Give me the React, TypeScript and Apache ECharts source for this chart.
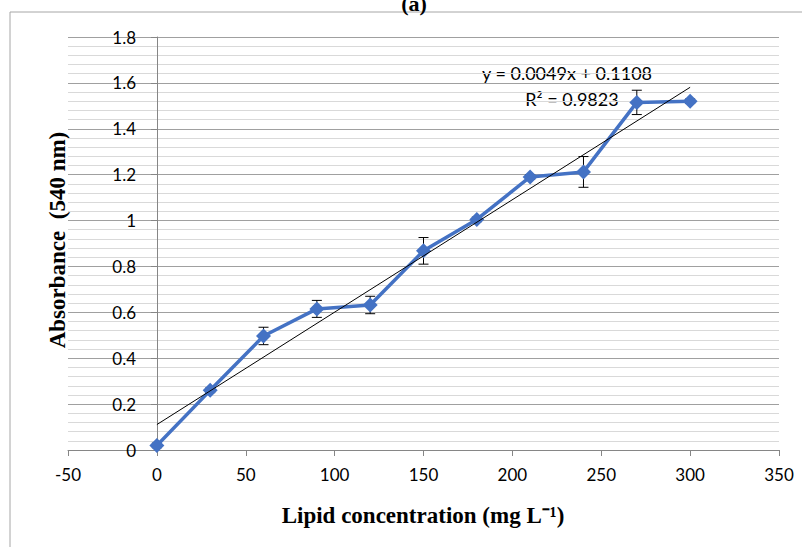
import React, { useEffect, useRef } from "react";
import * as echarts from "echarts";

const xValues = [0, 30, 60, 90, 120, 150, 180, 210, 240, 270, 300];
const absorbance = [0.02, 0.26, 0.497, 0.615, 0.632, 0.868, 1.005, 1.19, 1.212, 1.515, 1.52];
const errors = [0.01, 0.01, 0.038, 0.037, 0.038, 0.058, 0.01, 0.01, 0.067, 0.053, 0.01];
const trendline = [
  [0, 0.1108],
  [300, 1.5808],
];
const equationText = "y = 0.0049x + 0.1108";
const r2Text = "R² = 0.9823";

export default function App() {
  const ref = useRef<HTMLDivElement>(null);
  useEffect(() => {
    if (!ref.current) return;
    const chart = echarts.init(ref.current, undefined, { renderer: "svg" });
    const tickFont = "Lato, 'Open Sans', sans-serif";
    const serif = "'Liberation Serif', 'Times New Roman', serif";
    chart.setOption({
      animation: false,
      backgroundColor: "#fff",
      grid: { left: 68, right: 23, top: 37, bottom: 97, containLabel: false },
      xAxis: {
        type: "value",
        min: -50,
        max: 350,
        interval: 50,
        axisLine: { show: true, onZero: true, lineStyle: { color: "#868686", width: 1 } },
        axisTick: { show: true, length: 6, lineStyle: { color: "#868686" } },
        axisLabel: { color: "#000", fontSize: 17, fontFamily: tickFont, margin: 16 },
        splitLine: { show: false },
      },
      yAxis: {
        type: "value",
        min: 0,
        max: 1.8,
        interval: 0.2,
        offset: -89,
        axisLine: { show: true, onZero: false, lineStyle: { color: "#868686", width: 1 } },
        axisTick: { show: true, length: 6, lineStyle: { color: "#868686" } },
        axisLabel: { color: "#000", fontSize: 17, fontFamily: tickFont, margin: 21 },
        splitLine: { show: true, lineStyle: { color: "#a0a0a0", width: 1 } },
        minorTick: { show: false, splitNumber: 5 },
        minorSplitLine: { show: true, lineStyle: { color: "#d9d9d9", width: 1 } },
      },
      graphic: [
        { type: "line", shape: { x1: 10, y1: 12, x2: 802, y2: 12 }, style: { stroke: "#a6a6a6", lineWidth: 1 } },
        { type: "line", shape: { x1: 10, y1: 12, x2: 10, y2: 547 }, style: { stroke: "#a6a6a6", lineWidth: 1 } },
        {
          type: "text",
          x: 414,
          y: -8,
          style: { text: "(a)", fontFamily: serif, fontWeight: "bold", fontSize: 22, fill: "#000", textAlign: "center", textVerticalAlign: "top" },
        },
        {
          type: "text",
          x: 57,
          y: 240,
          rotation: Math.PI / 2,
          style: { text: "Absorbance  (540 nm)", fontFamily: serif, fontWeight: "bold", fontSize: 23, fill: "#000", textAlign: "center", textVerticalAlign: "middle" },
        },
        {
          type: "text",
          x: 423,
          y: 515,
          style: { text: "Lipid concentration (mg L⁻¹)", fontFamily: serif, fontWeight: "bold", fontSize: 23, fill: "#000", textAlign: "center", textVerticalAlign: "middle" },
        },
        {
          type: "text",
          x: 567,
          y: 73,
          style: { text: equationText, fontFamily: tickFont, fontSize: 18, fill: "#000", textAlign: "center", textVerticalAlign: "middle" },
        },
        {
          type: "text",
          x: 572,
          y: 99,
          style: { text: r2Text, fontFamily: tickFont, fontSize: 18, fill: "#000", textAlign: "center", textVerticalAlign: "middle" },
        },
      ],
      series: [
        {
          type: "custom",
          z: 1,
          data: xValues.map((x, i) => [x, absorbance[i], errors[i]]),
          renderItem: (params: any, api: any) => {
            const x = api.value(0);
            const y = api.value(1);
            const e = api.value(2);
            const top = api.coord([x, y + e]);
            const bot = api.coord([x, y - e]);
            const w = 5;
            const style = { stroke: "#000", lineWidth: 1 };
            return {
              type: "group",
              children: [
                { type: "line", shape: { x1: top[0], y1: top[1], x2: bot[0], y2: bot[1] }, style },
                { type: "line", shape: { x1: top[0] - w, y1: top[1], x2: top[0] + w, y2: top[1] }, style },
                { type: "line", shape: { x1: bot[0] - w, y1: bot[1], x2: bot[0] + w, y2: bot[1] }, style },
              ],
            };
          },
        },
        {
          type: "line",
          z: 3,
          data: xValues.map((x, i) => [x, absorbance[i]]),
          symbol: "diamond",
          symbolSize: 15,
          lineStyle: { color: "#4472C4", width: 3.5 },
          itemStyle: { color: "#4472C4" },
        },
        {
          type: "line",
          z: 4,
          data: trendline,
          symbol: "none",
          lineStyle: { color: "#000", width: 1 },
        },
      ],
    });
    return () => chart.dispose();
  }, []);
  return <div ref={ref} style={{ position: "fixed", left: 0, top: 0, width: 802, height: 547 }} />;
}
